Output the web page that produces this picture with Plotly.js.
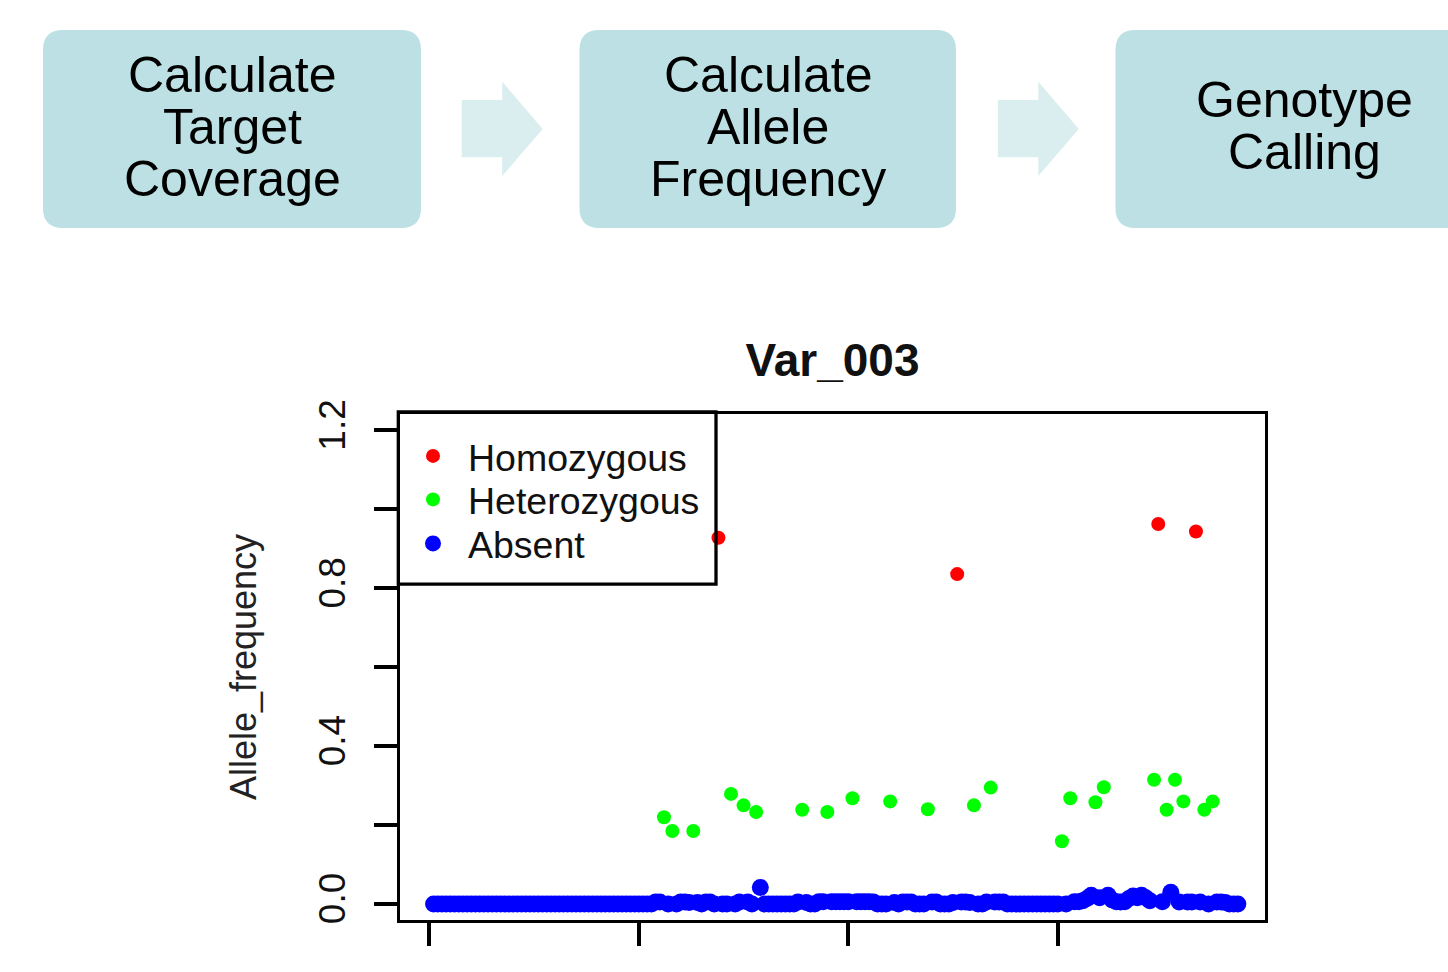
<!DOCTYPE html>
<html>
<head>
<meta charset="utf-8">
<script src="https://cdn.plot.ly/plotly-3.0.1.min.js"></script>
<style>html,body{margin:0;padding:0;background:#fff;}#chart{width:1448px;height:972px;}</style>
</head>
<body>
<div id="chart"></div>
<script>
// ---------------- data ----------------
const chartTitle = "Var_003";
const yAxisTitle = "Allele_frequency";
const seriesNames = ["Homozygous", "Heterozygous", "Absent"];
const seriesColors = ["#FF0000", "#00FF00", "#0000FF"];

const yTickVals = [0, 0.2, 0.4, 0.6, 0.8, 1.0, 1.2];
const yTickText = ["0.0", "", "0.4", "", "0.8", "", "1.2"];
const xTickVals = [0, 50, 100, 150];

// Homozygous samples (sample index, allele frequency)
const homIdx  = [69, 126, 174, 183];
const homFreq = [0.928, 0.836, 0.963, 0.944];

// Heterozygous samples
const hetIdx  = [56, 58, 63, 72, 75, 78, 89, 95, 101, 110, 119, 130, 134, 151, 153, 159, 161, 173, 176, 178, 180, 185, 187];
const hetFreq = [0.220, 0.185, 0.185, 0.279, 0.250, 0.233, 0.239, 0.233, 0.268, 0.260, 0.240, 0.250, 0.295, 0.159, 0.268, 0.258, 0.296, 0.315, 0.239, 0.315, 0.260, 0.239, 0.260];

// Absent samples: allele frequency of sample 1..193 (null = sample called otherwise)
const absFreq = [
  0,0,0,0,0,0,0,0,0,0,                                   // 1-10
  0,0,0,0,0,0,0,0,0,0,                                   // 11-20
  0,0,0,0,0,0,0,0,0,0,                                   // 21-30
  0,0,0,0,0,0,0,0,0,0,                                   // 31-40
  0,0,0,0,0,0,0,0,0,0,                                   // 41-50
  0,0,0,0.005,0.005,null,0,null,0,0.005,                 // 51-60
  0.005,0.004,null,0.004,0,0.005,0.005,0,null,0,         // 61-70
  0,null,0,0.005,null,0.005,0,null,0.042,0,              // 71-80
  0,0,0,0,0,0,0,0.005,null,0.004,                        // 81-90
  0,0,0.006,0.006,null,0.006,0.006,0.006,0.006,0.006,    // 91-100
  null,0.006,0.006,0.006,0.006,0.005,0,0,0,null,         // 101-110
  0.004,0,0.005,0.005,0.005,0,0,0,null,0.005,            // 111-120
  0.005,0,0,0,0.004,null,0.005,0.005,0.004,null,         // 121-130
  0,0,0.005,null,0.005,0.005,0.005,0,0,0,                // 131-140
  0,0,0,0,0,0,0,0,0,0,                                   // 141-150
  null,0,null,0.006,0.006,0.008,0.014,0.022,null,0.016,  // 151-160
  null,0.022,0.01,0.006,0.005,0.006,0.014,0.02,0.016,0.022, // 161-170
  0.016,0.008,null,null,0.006,null,0.03,null,0.005,null, // 171-180
  0.005,0.005,null,0.005,null,0,null,0.005,0.005,0.004,  // 181-190
  0,0,0                                                  // 191-193
];

// flowchart steps
const stepLines = [["Calculate", "Target", "Coverage"], ["Calculate", "Allele", "Frequency"], ["Genotype", "Calling"]];

// ---------------- layout helpers ----------------
const W = 1448, H = 972;
const M = {l: 400, r: 183, t: 414, b: 52};
const PW = W - M.l - M.r, PH = H - M.t - M.b;
const X = p => (p - M.l) / PW;      // page pixel -> paper x
const Y = p => (H - M.b - p) / PH;  // page pixel -> paper y
const FONT = "Liberation Sans, Arial, Helvetica, sans-serif";

const absX = [], absY = [];
absFreq.forEach((v, i) => { if (v !== null) { absX.push(i + 1); absY.push(v); } });

const traces = [
  {type: "scatter", mode: "markers", name: seriesNames[2], x: absX, y: absY,
   marker: {color: seriesColors[2], size: 17}, legend: "legend3"},
  {type: "scatter", mode: "markers", name: seriesNames[1], x: hetIdx, y: hetFreq,
   marker: {color: seriesColors[1], size: 14}, legend: "legend2"},
  {type: "scatter", mode: "markers", name: seriesNames[0], x: homIdx, y: homFreq,
   marker: {color: seriesColors[0], size: 14}, legend: "legend"}
];

function roundRect(x0, y0, x1, y1, r) {
  return `M ${X(x0 + r)},${Y(y0)} L ${X(x1 - r)},${Y(y0)} Q ${X(x1)},${Y(y0)} ${X(x1)},${Y(y0 + r)} ` +
         `L ${X(x1)},${Y(y1 - r)} Q ${X(x1)},${Y(y1)} ${X(x1 - r)},${Y(y1)} ` +
         `L ${X(x0 + r)},${Y(y1)} Q ${X(x0)},${Y(y1)} ${X(x0)},${Y(y1 - r)} ` +
         `L ${X(x0)},${Y(y0 + r)} Q ${X(x0)},${Y(y0)} ${X(x0 + r)},${Y(y0)} Z`;
}
function arrow(xs) {
  const pts = [[xs, 100], [xs + 40.5, 100], [xs + 40.5, 81.7], [xs + 81, 129], [xs + 40.5, 176], [xs + 40.5, 157.3], [xs, 157.3]];
  return "M " + pts.map(p => `${X(p[0])},${Y(p[1])}`).join(" L ") + " Z";
}

const boxFill = "#BCE0E3", arrowFill = "#DAEDEF";
const boxes = [[43, 421], [579.5, 956], [1115.5, 1493]];
const shapes = [];
boxes.forEach(b => shapes.push({type: "path", xref: "paper", yref: "paper", path: roundRect(b[0], 30, b[1], 228, 20),
  fillcolor: boxFill, line: {width: 0}, layer: "above"}));
[461.7, 997.8].forEach(a => shapes.push({type: "path", xref: "paper", yref: "paper", path: arrow(a),
  fillcolor: arrowFill, line: {width: 0}, layer: "above"}));
// legend frame
shapes.push({type: "rect", xref: "paper", yref: "paper", x0: X(398.3), x1: X(716), y0: Y(584.2), y1: Y(412),
  line: {color: "#000", width: 3.3}, fillcolor: "rgba(0,0,0,0)", layer: "above"});

const annotations = [];
const centers = [232, 768, 1304];
stepLines.forEach((lines, k) => {
  const n = lines.length, mid = n === 3 ? 127 : 126;
  lines.forEach((t, j) => {
    annotations.push({xref: "paper", yref: "paper", x: X(centers[k]), y: Y(mid + (j - (n - 1) / 2) * 52),
      text: t, showarrow: false, xanchor: "center", yanchor: "middle",
      font: {family: FONT, size: 50, color: "#000"}});
  });
});

const legendBase = {xref: "paper", yref: "paper", x: X(398), xanchor: "left", yanchor: "middle",
  bgcolor: "rgba(0,0,0,0)", borderwidth: 0, itemwidth: 60,
  font: {family: FONT, size: 37.5, color: "#111"}};

const layout = {
  width: W, height: H,
  margin: M,
  paper_bgcolor: "#fff", plot_bgcolor: "#fff",
  showlegend: true,
  title: {text: "<b>" + chartTitle + "</b>", font: {family: FONT, size: 46, color: "#111"},
          x: 0.5, xref: "paper", xanchor: "center", y: 1 - 360 / H, yref: "container", yanchor: "middle"},
  xaxis: {range: [(M.l - 429.4) / 4.1888, (W - M.r - 429.4) / 4.1888], tickvals: xTickVals, showticklabels: false,
          ticks: "outside", ticklen: 23, tickwidth: 3.5, tickcolor: "#000",
          showline: true, linecolor: "#000", linewidth: 3.3, mirror: true,
          showgrid: false, zeroline: false, fixedrange: true},
  yaxis: {range: [(904 - (H - M.b)) / 394.6, (904 - M.t) / 394.6], tickvals: yTickVals, ticktext: yTickText,
          tickangle: -90, ticks: "outside", ticklen: 23, tickwidth: 3.5, tickcolor: "#000",
          tickfont: {family: FONT, size: 37, color: "#111"}, ticklabelstandoff: 14,
          showline: true, linecolor: "#000", linewidth: 3.3, mirror: true,
          showgrid: false, zeroline: false, fixedrange: true,
          title: {text: yAxisTitle, font: {family: FONT, size: 36, color: "#222"}, standoff: 45}},
  legend: Object.assign({}, legendBase, {y: Y(456)}),
  legend2: Object.assign({}, legendBase, {y: Y(499.5)}),
  legend3: Object.assign({}, legendBase, {y: Y(543.5)}),
  shapes: shapes,
  annotations: annotations
};

Plotly.newPlot("chart", traces, layout, {displayModeBar: false, responsive: false});
</script>
</body>
</html>
